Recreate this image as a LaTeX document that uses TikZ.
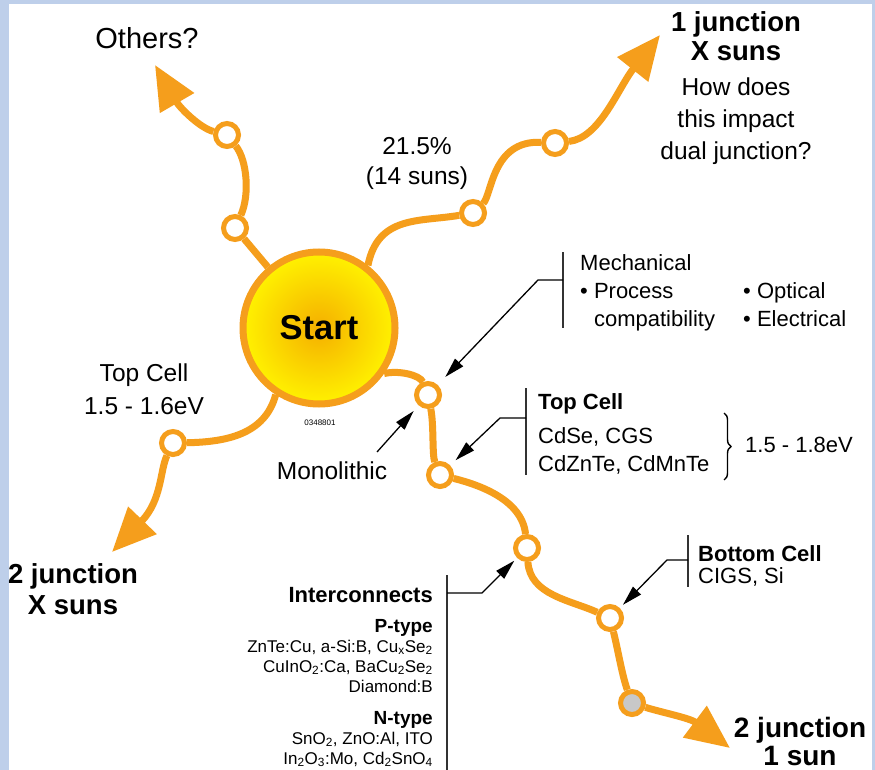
\documentclass[tikz,border=0pt]{standalone}
\usepackage{fontspec}
\setmainfont{Liberation Sans}
\usetikzlibrary{arrows.meta,decorations.pathreplacing}

\definecolor{pathorange}{RGB}{245,158,28}
\definecolor{framebg}{RGB}{190,207,234}
\definecolor{sunyellow}{RGB}{255,242,0}
\definecolor{suncore}{RGB}{245,175,0}
\definecolor{stopgray}{RGB}{200,200,200}

\begin{document}
\begin{tikzpicture}[
    x=1pt, y=-1pt,
    junc/.style={circle, draw=pathorange, line width=5pt, fill=white, minimum size=23pt, inner sep=0pt},
    branch/.style={draw=pathorange, line width=7pt},
    bigarrow/.style={branch, -{Triangle[length=44pt,width=38pt]}},
    note/.style={draw=black, line width=1.3pt, -{Triangle[length=20pt,width=11pt]}},
    bracketline/.style={draw=black!80, line width=1.4pt},
    txt/.style={inner sep=0pt, font=\fontsize{24.5}{32}\selectfont},
    headtxt/.style={inner sep=0pt, font=\fontsize{27.5}{29}\selectfont\bfseries},
    smalltxt/.style={inner sep=0pt, font=\fontsize{22}{28}\selectfont}
]

% Frame
\useasboundingbox (0,0) rectangle (875,770);
\fill[framebg] (0,0) rectangle (875,770);
\fill[white] (9,4) rectangle (872,770);

% Start circle
\node[circle, draw=pathorange, line width=7pt, minimum size=152pt, shade, inner color=suncore, outer color=sunyellow, font=\fontsize{34.5}{40}\selectfont\bfseries] (start) at (319,328) {Start};
\node[inner sep=0pt, font=\fontsize{8}{8}\selectfont] (code) at (320,423) {0348801};

% Junctions
\node[junc] (o1) at (235,228) {};
\node[junc] (o2) at (227,135) {};
\node[junc] (s1) at (473,213) {};
\node[junc] (s2) at (555,143) {};
\node[junc] (l1) at (173,443) {};
\node[junc] (m1) at (428,395) {};
\node[junc] (m2) at (440,475) {};
\node[junc] (m3) at (527,548) {};
\node[junc] (m4) at (610,618) {};
\node[junc, fill=stopgray] (m5) at (632,703) {};

% Arrow ends
\coordinate (othertip) at (155,65);
\coordinate (onetip) at (660,35);
\coordinate (lefttip) at (112,552);
\coordinate (maintip) at (730,748);

% Branches
\draw[branch] (start) -- (o1);
\draw[branch] (o1) .. controls (250,195) and (247,160) .. (o2);
\draw[bigarrow] (o2) .. controls (200,128) and (180,108) .. (othertip);

\draw[branch] (start.52) .. controls (378,215) and (420,222) .. (s1);
\draw[branch] (s1) .. controls (492,195) and (492,140) .. (s2);
\draw[bigarrow] (s2) .. controls (600,138) and (618,88) .. (onetip);

\draw[branch] (start.237) .. controls (265,435) and (225,442) .. (l1);
\draw[bigarrow] (l1) .. controls (160,470) and (162,500) .. (lefttip);

\draw[branch] (start.325) .. controls (398,370) and (420,375) .. (m1);
\draw[branch] (m1) .. controls (434,425) and (432,455) .. (m2);
\draw[branch] (m2) .. controls (480,485) and (522,500) .. (m3);
\draw[branch] (m3) .. controls (530,595) and (570,600) .. (m4);
\draw[branch] (m4) .. controls (618,650) and (622,675) .. (m5);
\draw[bigarrow] (m5) .. controls (660,712) and (690,718) .. (maintip);

% Branch labels (base = last line)
\node[txt, font=\fontsize{29}{34}\selectfont, anchor=base] (others) at (147,49) {Others?};
\node[headtxt, align=center, anchor=base] (onejunc) at (736,61) {1 junction\\X suns};
\node[txt, align=center, anchor=base] (impact) at (736,160) {How does\\this impact\\dual junction?};
\node[txt, align=center, anchor=base, font=\fontsize{24.5}{30}\selectfont] (eff) at (417,185) {21.5\%\\(14 suns)};
\node[txt, align=center, anchor=base, font=\fontsize{24.5}{33}\selectfont] (topleft) at (144,414) {Top Cell\\1.5 - 1.6eV};
\node[headtxt, align=center, anchor=base, font=\fontsize{27.5}{31}\selectfont\bfseries] (twojx) at (73,614) {2 junction\\X suns};
\node[headtxt, align=center, anchor=base, font=\fontsize{28}{28}\selectfont\bfseries] (twoj1) at (800,765) {2 junction\\1 sun};
\node[txt, anchor=base] (mono) at (332,479) {Monolithic};

% Mechanical
\node[smalltxt, align=left, anchor=base west] (mech) at (580,326) {Mechanical\\\textbullet\ Process\\\phantom{\textbullet\ }compatibility};
\node[smalltxt, align=left, anchor=base west] (mechb) at (743,326) {\textbullet\ Optical\\\textbullet\ Electrical};
\coordinate (mechtop) at (563,252);
\coordinate (mechbot) at (563,328);
\coordinate (mechtick) at (563,280);
\draw[bracketline] (mechtop) -- (mechbot);
\draw[note, shorten >=11pt] (mechtick) -- ++(-25,0) -- (m1);

% Monolithic
\coordinate (monotail) at (377,452);
\draw[note, shorten >=7.5pt] (monotail) -- (m1);

% Top cell
\node[smalltxt, align=left, anchor=base west] (topcell) at (538,471) {\textbf{Top Cell}\\[6pt]CdSe, CGS\\CdZnTe, CdMnTe};
\coordinate (toptop) at (526,388);
\coordinate (topbot) at (526,475);
\coordinate (toptick) at (526,418);
\draw[bracketline] (toptop) -- (topbot);
\draw[note, shorten >=7.5pt] (toptick) -- ++(-26,0) -- (m2);
\coordinate (bracetop) at (724,413);
\coordinate (bracebot) at (724,480);
\draw[line width=1.4pt, decorate, decoration={brace, amplitude=7pt}] (bracetop) -- (bracebot);
\node[smalltxt, anchor=base west] (gap) at (745,452) {1.5 - 1.8eV};

% Bottom cell
\node[smalltxt, align=left, anchor=base west, font=\fontsize{22}{22.5}\selectfont] (bottomcell) at (698,583.5) {\textbf{Bottom Cell}\\CIGS, Si};
\coordinate (bottop) at (688,535);
\coordinate (botbot) at (688,587);
\coordinate (bottick) at (688,560);
\draw[bracketline] (bottop) -- (botbot);
\draw[note, shorten >=4.5pt] (bottick) -- ++(-21,0) -- (m4);

% Interconnects
\node[inner sep=0pt, anchor=base east, font=\fontsize{22}{24}\selectfont\bfseries] (inter) at (433,602) {Interconnects};
\node[inner sep=0pt, align=right, anchor=base east, font=\fontsize{17}{20}\selectfont] (ptype) at (433,692) {{\fontsize{19}{20}\selectfont\bfseries P-type}\\ZnTe:Cu, a-Si:B, Cu\textsubscript{x}Se\textsubscript{2}\\CuInO\textsubscript{2}:Ca, BaCu\textsubscript{2}Se\textsubscript{2}\\Diamond:B};
\node[inner sep=0pt, align=right, anchor=base east, font=\fontsize{17}{20}\selectfont] (ntype) at (433,764) {{\fontsize{19}{20}\selectfont\bfseries N-type}\\SnO\textsubscript{2}, ZnO:Al, ITO\\In\textsubscript{2}O\textsubscript{3}:Mo, Cd\textsubscript{2}SnO\textsubscript{4}};
\coordinate (intertop) at (447,575);
\coordinate (interbot) at (447,770);
\coordinate (intertick) at (447,593);
\draw[bracketline] (intertop) -- (interbot);
\draw[note, shorten >=4pt] (intertick) -- ++(35,0) -- (m3);

\end{tikzpicture}
\end{document}
